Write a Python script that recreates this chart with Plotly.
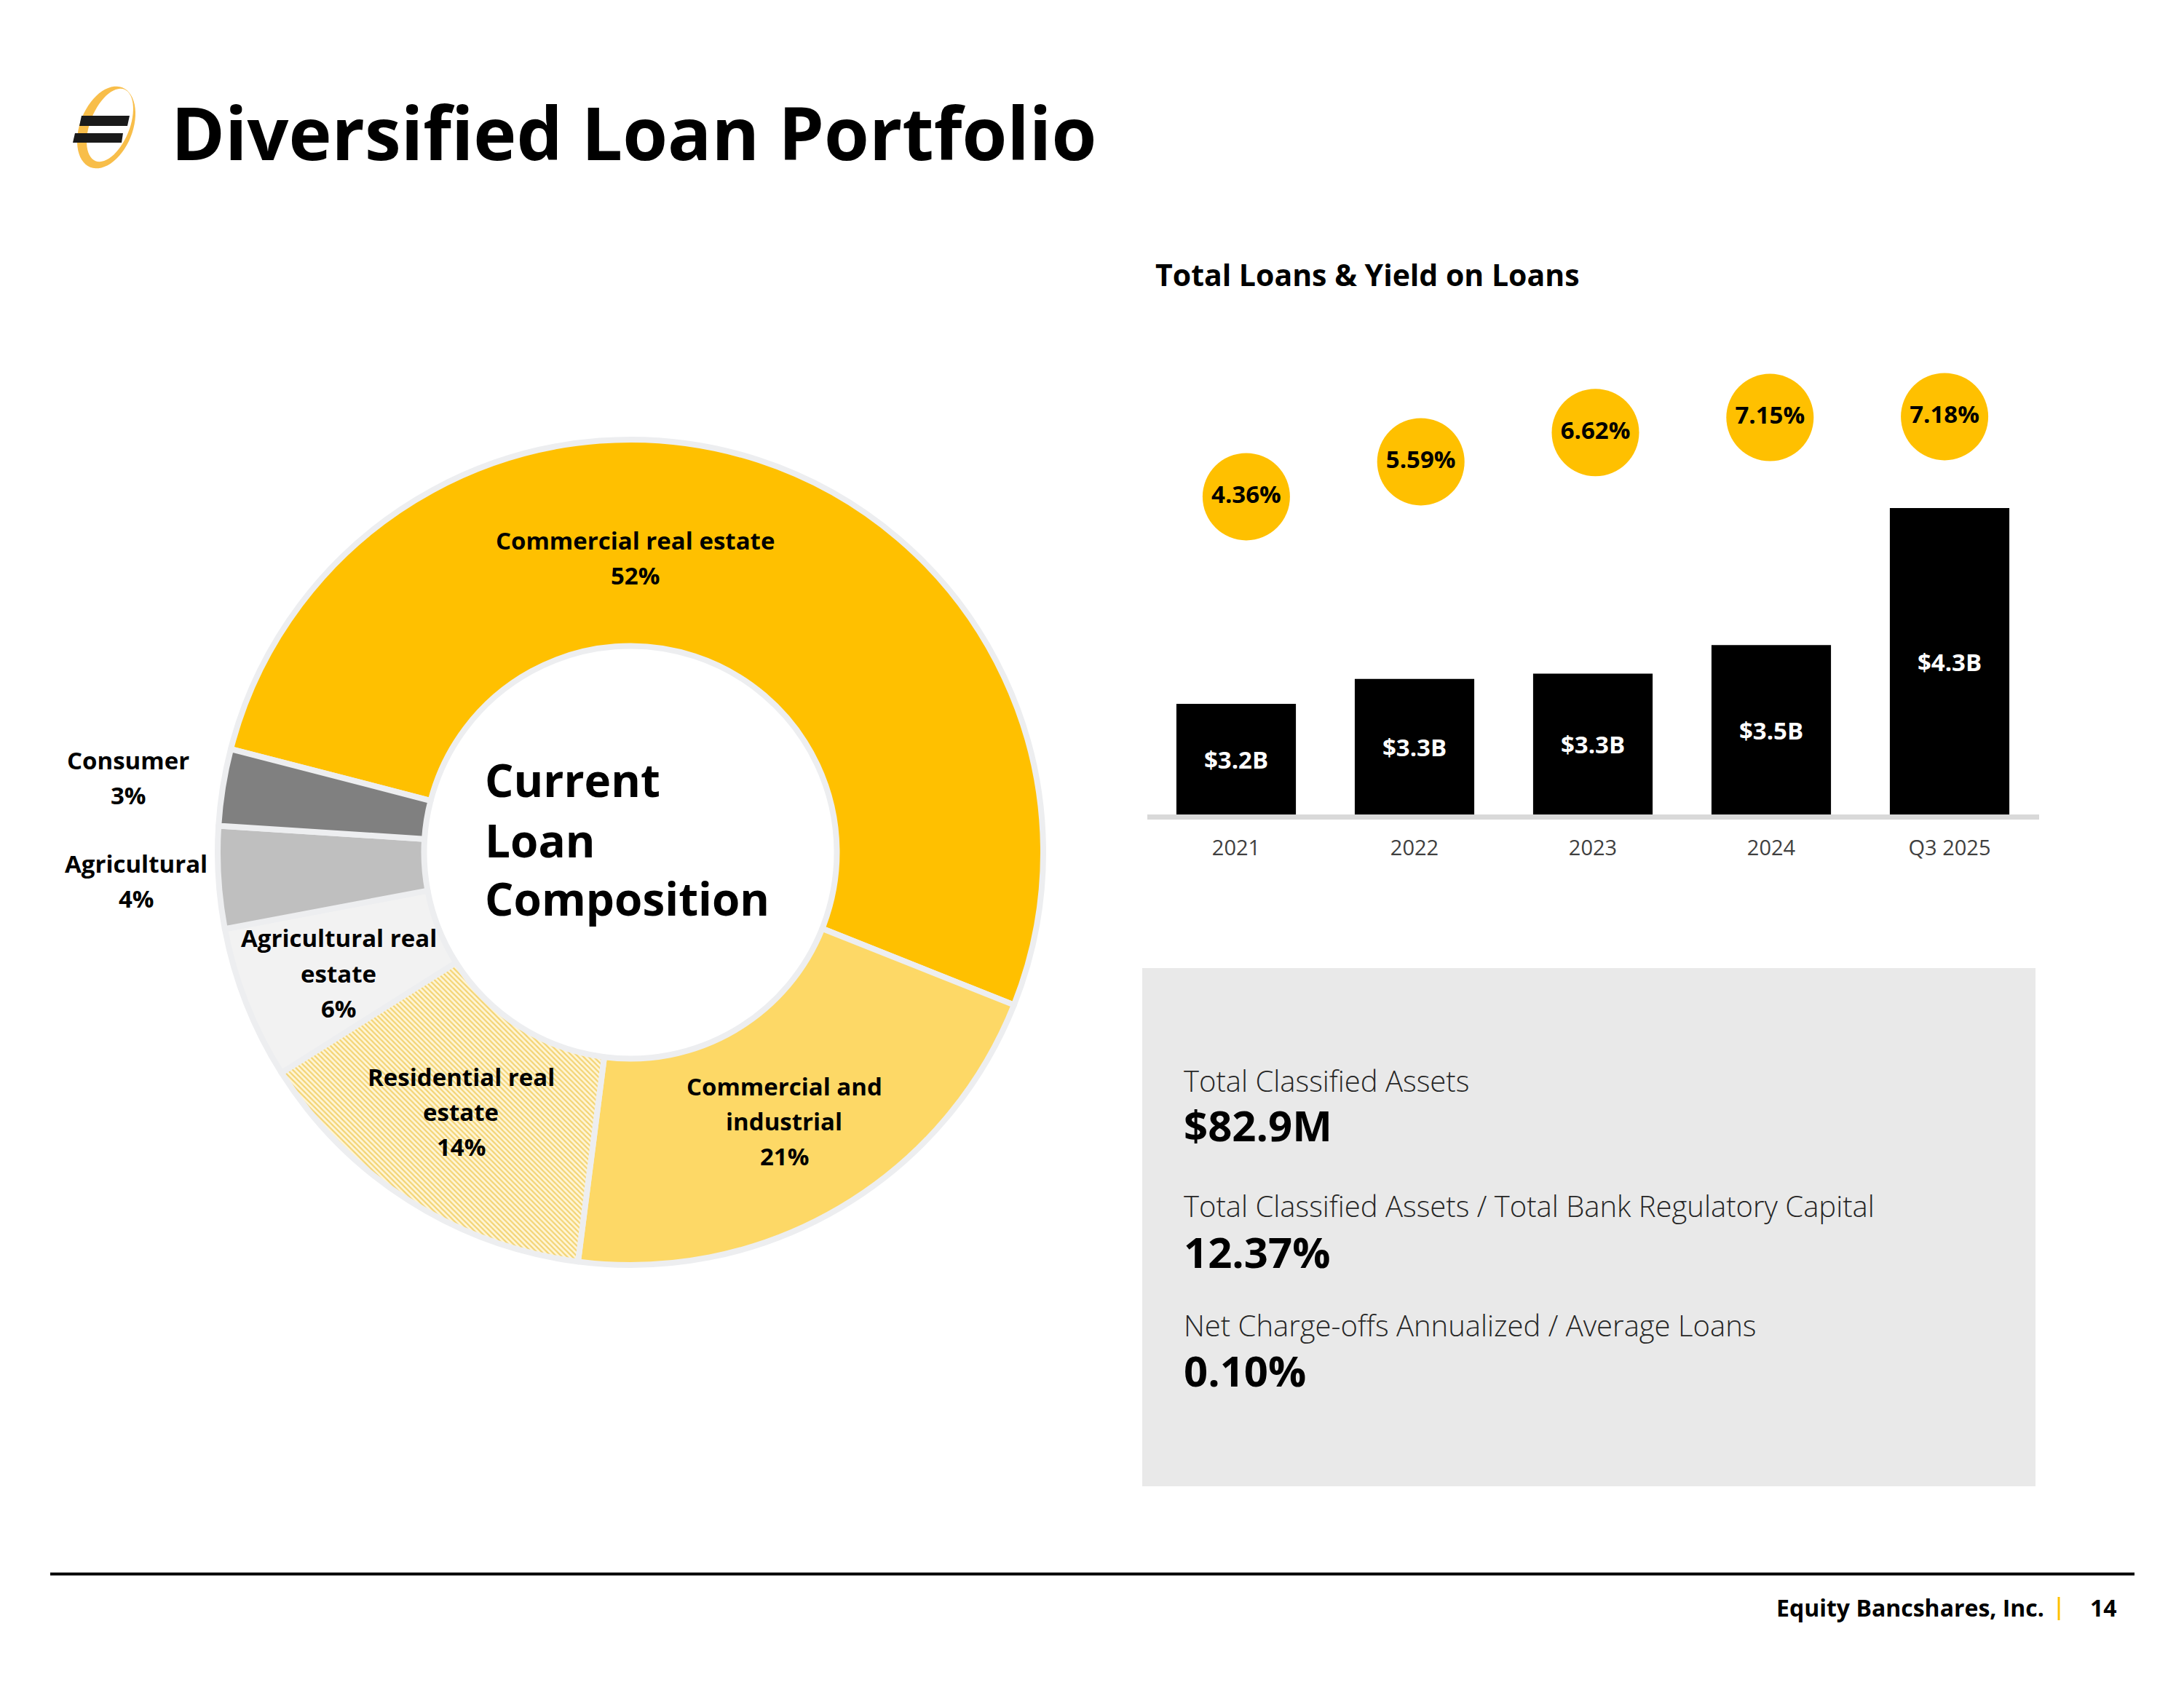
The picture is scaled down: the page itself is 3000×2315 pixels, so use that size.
import math
import plotly.graph_objects as go

W, H = 3000, 2315

# ---------------- data ----------------
slice_names = ["Commercial real estate", "Commercial and industrial", "Residential real estate",
               "Agricultural real estate", "Agricultural", "Consumer"]
slice_label_lines = [["Commercial real estate"], ["Commercial and", "industrial"],
                     ["Residential real", "estate"], ["Agricultural real", "estate"],
                     ["Agricultural"], ["Consumer"]]
slice_pct = [52, 21, 14, 6, 4, 3]
slice_colors = ["#FFC000", "#FDD866", "#FFF2CC", "#F2F2F2", "#BFBFBF", "#808080"]

years = ["2021", "2022", "2023", "2024", "Q3 2025"]
loans_b = [3.2, 3.34, 3.37, 3.53, 4.3]
loan_labels = ["$3.2B", "$3.3B", "$3.3B", "$3.5B", "$4.3B"]
yields = [4.36, 5.59, 6.62, 7.15, 7.18]

metric_labels = ["Total Classified Assets",
                 "Total Classified Assets / Total Bank Regulatory Capital",
                 "Net Charge-offs Annualized / Average Loans"]
metric_values = ["$82.9M", "12.37%", "0.10%"]

FONT = "Open Sans"


def px(x):
    return x / W


def py(y):
    return 1 - y / H


fig = go.Figure()

# ---------------- donut ----------------
fig.add_trace(go.Pie(
    labels=slice_names, values=slice_pct, sort=False, direction="clockwise",
    rotation=-75.5, hole=0.5,
    marker=dict(colors=slice_colors, line=dict(color="#EDEEF0", width=8),
                pattern=dict(shape=["", "", "\\", "", "", ""], fgcolor="#F3D474",
                             bgcolor="#FFF6D8", size=5, solidity=0.45)),
    textinfo="none", hoverinfo="label+percent", showlegend=False,
    domain=dict(x=[px(299), px(1433)], y=[py(1738), py(604)]),
))

# ---------------- bars ----------------
bar_bottom, bar_top_px = 1119, 400
k_bar = 244.5
v0 = 3.2 - (bar_bottom - 967) / k_bar
vmax = v0 + (bar_bottom - bar_top_px) / k_bar

fig.add_trace(go.Bar(
    x=years, y=loans_b, marker=dict(color="black", line=dict(width=0)),
    cliponaxis=True, showlegend=False, xaxis="x", yaxis="y", hoverinfo="x+y",
))
# value labels centred in the visible part of each bar
fig.add_trace(go.Scatter(
    x=years, y=[(v0 + v) / 2 - 5 / k_bar for v in loans_b], mode="text", text=loan_labels,
    textposition="middle center",
    textfont=dict(family=FONT, size=33, color="white", weight="bold"),
    showlegend=False, xaxis="x", yaxis="y", hoverinfo="skip",
))

k_y = 39.0
y2_lo = 4.36 - (bar_bottom - 682.4) / k_y
y2_hi = 4.36 + (682.4 - bar_top_px) / k_y
fig.add_trace(go.Scatter(
    x=years, y=yields, mode="markers+text",
    text=[f"{v:.2f}%" for v in yields], textposition="middle center",
    textfont=dict(family=FONT, size=33, color="black", weight="bold"),
    marker=dict(size=120, color="#FFC000", line=dict(width=0)),
    showlegend=False, xaxis="x2", yaxis="y2", cliponaxis=False,
))

fig.update_layout(
    width=W, height=H, margin=dict(l=0, r=0, t=0, b=0),
    paper_bgcolor="white", plot_bgcolor="rgba(0,0,0,0)",
    bargap=0.33,
    xaxis=dict(domain=[px(1575.5), px(2800.5)], type="category", showgrid=False,
               showline=True, linecolor="#D9D9D9", linewidth=7, ticks="",
               tickfont=dict(family=FONT, size=29, color="#404040"), zeroline=False,
               anchor="y", ticklabelstandoff=14),
    yaxis=dict(domain=[py(bar_bottom), py(bar_top_px)], range=[v0, vmax], visible=False,
               showgrid=False, zeroline=False, anchor="x"),
    xaxis2=dict(domain=[px(1592), px(2791)], type="category", range=[-0.5, 4.5],
                visible=False, anchor="y2"),
    yaxis2=dict(domain=[py(bar_bottom), py(bar_top_px)], range=[y2_lo, y2_hi],
                visible=False, anchor="x2"),
)

ann = []
shapes = []


def A(text, x, y, size, xanchor="left", weight="bold", color="black", align="left"):
    return dict(text=text, x=px(x), y=py(y), xref="paper", yref="paper",
                xanchor=xanchor, yanchor="middle", showarrow=False, align=align,
                font=dict(family=FONT, size=size, color=color, weight=weight))

# title
ann.append(A("Diversified Loan Portfolio", 233, 181, 100))
# bar chart title
ann.append(A("Total Loans & Yield on Loans", 1585, 377, 41))

# donut labels (one annotation per line, 48 px apart)
label_pos = [(872, 766), (1077, 1540), (633, 1527), (465, 1337), (187, 1210), (176, 1068)]
for lines, pct, (lx, ly) in zip(slice_label_lines, slice_pct, label_pos):
    all_lines = lines + [f"{pct}%"]
    n = len(all_lines)
    for i, t in enumerate(all_lines):
        ann.append(A(t, lx, ly + (i - (n - 1) / 2) * 48, 33, xanchor="center", align="center"))

# donut centre text
for line, ly in zip(["Current", "Loan", "Composition"], [1071, 1154, 1234]):
    ann.append(A(line, 664, ly, 62))

# info box
shapes.append(dict(type="rect", xref="paper", yref="paper", x0=px(1569), x1=px(2796),
                   y0=py(2042), y1=py(1330), fillcolor="#E9E9E9", line=dict(width=0),
                   layer="below"))
for lab, val, ly, vy in zip(metric_labels, metric_values, [1484, 1656, 1820], [1545, 1719, 1882]):
    ann.append(A(lab, 1624, ly, 40, weight=300, color="#262626"))
    ann.append(A(val, 1624, vy, 58))

# footer
shapes.append(dict(type="line", xref="paper", yref="paper", x0=px(69), x1=px(2932),
                   y0=py(2162.5), y1=py(2162.5), line=dict(color="black", width=4)))
shapes.append(dict(type="line", xref="paper", yref="paper", x0=px(2828), x1=px(2828),
                   y0=py(2194), y1=py(2226), line=dict(color="#FFC000", width=3)))
ann.append(A("Equity Bancshares, Inc.", 2810, 2208, 32, xanchor="right"))
ann.append(A("14", 2889, 2208, 32, xanchor="center"))

# logo: yellow crescent + two black slanted bars
def ellipse_pts(cx, cy, a, b, rot_deg, n=60, reverse=False):
    r = math.radians(rot_deg)
    pts = []
    rng = range(n) if not reverse else range(n, 0, -1)
    for i in rng:
        t = 2 * math.pi * i / n
        ex, ey = a * math.cos(t), b * math.sin(t)
        x = cx + ex * math.cos(r) - ey * math.sin(r)
        y = cy + ex * math.sin(r) + ey * math.cos(r)
        pts.append((x, y))
    return pts


def path_from(pts):
    return "M " + " L ".join(f"{px(x):.5f},{py(y):.5f}" for x, y in pts) + " Z"

outer = ellipse_pts(146, 175, 36, 59, 22)
inner = ellipse_pts(151, 172, 27, 53, 22, reverse=True)
shapes.append(dict(type="path", xref="paper", yref="paper",
                   path=path_from(outer) + " " + path_from(inner),
                   fillcolor="#F8BE4A", line=dict(width=0)))
shapes.append(dict(type="path", xref="paper", yref="paper",
                   path=path_from([(112, 159), (178, 159), (175, 173), (109, 173)]),
                   fillcolor="#1A1A1A", line=dict(width=0)))
shapes.append(dict(type="path", xref="paper", yref="paper",
                   path=path_from([(103, 183), (169, 183), (167, 196), (100, 196)]),
                   fillcolor="#1A1A1A", line=dict(width=0)))

fig.update_layout(annotations=ann, shapes=shapes)
fig.write_html("out.html")
